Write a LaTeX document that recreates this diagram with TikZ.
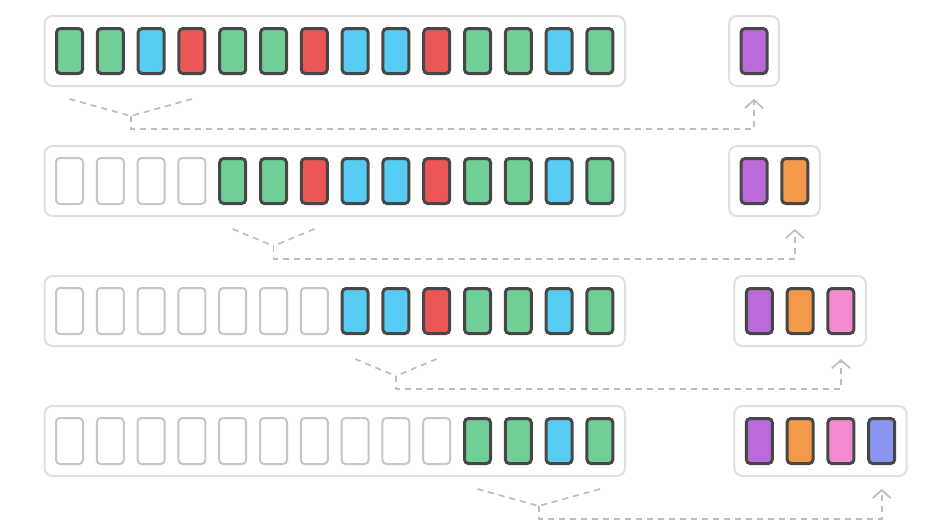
\documentclass[tikz,border=0pt]{standalone}
\usetikzlibrary{arrows.meta,calc}
\definecolor{cG}{HTML}{6FCF97}
\definecolor{cB}{HTML}{56CCF2}
\definecolor{cR}{HTML}{EB5757}
\definecolor{cP}{HTML}{BB6BD9}
\definecolor{cO}{HTML}{F2994A}
\definecolor{cK}{HTML}{F28BD2}
\definecolor{cV}{HTML}{8A95F0}
\definecolor{cellline}{HTML}{474747}
\definecolor{emptyline}{HTML}{C6C6C6}
\definecolor{frameline}{HTML}{E0E0E0}
\definecolor{linkgray}{HTML}{BDBDBD}
\begin{document}
\begin{tikzpicture}[x=1pt,y=-1pt,
  cell/.style={draw=cellline, line width=3pt, rounded corners=4pt, minimum width=26pt, minimum height=45pt, inner sep=0pt, outer sep=0pt},
  ce/.style={draw=emptyline, line width=2pt, rounded corners=4pt, fill=white, minimum width=27pt, minimum height=46pt, inner sep=0pt, outer sep=0pt},
  cg/.style={cell, fill=cG},
  cb/.style={cell, fill=cB},
  cr/.style={cell, fill=cR},
  cp/.style={cell, fill=cP},
  co/.style={cell, fill=cO},
  ck/.style={cell, fill=cK},
  cv/.style={cell, fill=cV},
  frame/.style={draw=frameline, line width=2pt, rounded corners=8pt, fill=white, inner sep=0pt, outer sep=0pt},
  link/.style={draw=linkgray, line width=1.7pt, dash pattern=on 6pt off 5pt},
  linkhead/.style={-{Straight Barb[length=8pt, width=18pt, line width=1.7pt]}}
]
\useasboundingbox (0,0) rectangle (941,531);
\fill[white] (0,0) rectangle (941,531);

% left frames
\foreach \r in {0,1,2,3}
  \node[frame, minimum width=580.5pt, minimum height=70pt] (L\r) at (334.75, 51+130*\r) {};

% right frames
\node[frame, minimum width=50pt, minimum height=70pt] (R0) at (754, 51) {};
\node[frame, minimum width=90.8pt, minimum height=70pt] (R1) at (774.4, 181) {};
\node[frame, minimum width=131.6pt, minimum height=70pt] (R2) at (800.1, 311) {};
\node[frame, minimum width=172.4pt, minimum height=70pt] (R3) at (820.5, 441) {};

% left cells
\foreach \s [count=\i from 0] in {cg,cg,cb,cr,cg,cg,cr,cb,cb,cr,cg,cg,cb,cg}
  \node[\s] (c0-\i) at (69.5+40.8*\i, 51) {};
\foreach \s [count=\i from 0] in {ce,ce,ce,ce,cg,cg,cr,cb,cb,cr,cg,cg,cb,cg}
  \node[\s] (c1-\i) at (69.5+40.8*\i, 181) {};
\foreach \s [count=\i from 0] in {ce,ce,ce,ce,ce,ce,ce,cb,cb,cr,cg,cg,cb,cg}
  \node[\s] (c2-\i) at (69.5+40.8*\i, 311) {};
\foreach \s [count=\i from 0] in {ce,ce,ce,ce,ce,ce,ce,ce,ce,ce,cg,cg,cb,cg}
  \node[\s] (c3-\i) at (69.5+40.8*\i, 441) {};

% right cells
\node[cp] (r0-0) at (754, 51) {};
\foreach \s [count=\i from 0] in {cp,co}
  \node[\s] (r1-\i) at (754+40.8*\i, 181) {};
\foreach \s [count=\i from 0] in {cp,co,ck}
  \node[\s] (r2-\i) at (759.3+40.8*\i, 311) {};
\foreach \s [count=\i from 0] in {cp,co,ck,cv}
  \node[\s] (r3-\i) at (759.3+40.8*\i, 441) {};

% connectors
\foreach \r/\a/\b/\t in {0/0/3/0, 1/4/6/1, 2/7/9/2, 3/10/13/3} {
  \coordinate (ba\r) at ($(c\r-\a.center)+(0,48)$);
  \coordinate (bb\r) at ($(c\r-\b.center)+(0,48)$);
  \coordinate (bm\r) at ($(ba\r)!0.5!(bb\r)+(0,17)$);
  \coordinate (bc\r) at ($(bm\r)+(0,13)$);
  \coordinate (tip\r) at ($(r\r-\t.center)+(0,48)$);
  \coordinate (hc\r) at (tip\r |- bc\r);
  \draw[link] (ba\r) -- (bm\r);
  \draw[link] (bb\r) -- (bm\r);
  \draw[link, linkhead] (bm\r) -- (bc\r) -- (hc\r) -- (tip\r);
}
\end{tikzpicture}
\end{document}
